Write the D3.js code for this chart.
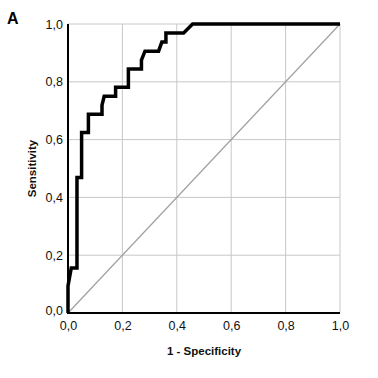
<!DOCTYPE html>
<html><head><meta charset="utf-8">
<script src="https://cdn.jsdelivr.net/npm/d3@7"></script>
<style>html,body{margin:0;padding:0;background:#fff;}</style>
</head><body>
<svg id="chart" width="378" height="378"></svg>
<script>
const panelLabel = "A";
const xTitle = "1 - Specificity";
const yTitle = "Sensitivity";
const tickValues = [0, 0.2, 0.4, 0.6, 0.8, 1.0];
const tickLabels = ["0,0", "0,2", "0,4", "0,6", "0,8", "1,0"];
// ROC curve points (1 - specificity, sensitivity)
const fpr = [0, 0, 0.012, 0.033, 0.033, 0.05, 0.05, 0.075, 0.075, 0.125, 0.125, 0.133, 0.175, 0.175, 0.222, 0.222, 0.27, 0.27, 0.283, 0.333, 0.345, 0.36, 0.36, 0.425, 0.458, 1.0];
const tpr = [0, 0.094, 0.156, 0.156, 0.469, 0.469, 0.625, 0.625, 0.6875, 0.6875, 0.719, 0.75, 0.75, 0.781, 0.781, 0.844, 0.844, 0.875, 0.906, 0.906, 0.9375, 0.9375, 0.969, 0.969, 1.0, 1.0];
const refLine = [[0, 0], [1, 1]];

const svg = d3.select("#chart");
const font = "'Liberation Sans', Arial, sans-serif";
const x = d3.scaleLinear().domain([0, 1]).range([68, 340]);
const y = d3.scaleLinear().domain([0, 1]).range([313, 24]);

// gridlines
svg.append("g").selectAll("line.v").data(tickValues.slice(1)).join("line")
  .attr("x1", d => x(d)).attr("x2", d => x(d)).attr("y1", y(0)).attr("y2", y(1))
  .attr("stroke", "#c8c8c8").attr("stroke-width", 1);
svg.append("g").selectAll("line.h").data(tickValues.slice(1)).join("line")
  .attr("y1", d => y(d)).attr("y2", d => y(d)).attr("x1", x(0)).attr("x2", x(1))
  .attr("stroke", "#c8c8c8").attr("stroke-width", 1);

// reference diagonal
svg.append("path").datum(refLine)
  .attr("d", d3.line().x(d => x(d[0])).y(d => y(d[1])))
  .attr("fill", "none").attr("stroke", "#a0a0a0").attr("stroke-width", 1.2);

// axes
const xAxis = d3.axisBottom(x).tickValues(tickValues).tickFormat((d, i) => tickLabels[i]).tickSize(0).tickPadding(8);
const yAxis = d3.axisLeft(y).tickValues(tickValues).tickFormat((d, i) => tickLabels[i]).tickSize(0).tickPadding(5);
const gx = svg.append("g").attr("transform", `translate(0,${y(0)})`).call(xAxis);
const gy = svg.append("g").attr("transform", `translate(${x(0)},0)`).call(yAxis);
[gx, gy].forEach(g => {
  g.select(".domain").attr("stroke", "#000").attr("stroke-width", 2);
  g.selectAll("text").attr("font-family", font).attr("font-size", 12.5).attr("fill", "#111");
});
gx.select(".domain").attr("d", `M${x(0)-1},0H${x(1)}`);
gy.select(".domain").attr("d", `M0,${y(0)+1}V${y(1)}`);
gy.selectAll(".tick").filter(d => d === 0).select("text").attr("dy", "0.1em");

// ROC curve
const pts = fpr.map((f, i) => [f, tpr[i]]);
svg.append("path").datum(pts)
  .attr("d", d3.line().x(d => x(d[0])).y(d => y(d[1])))
  .attr("fill", "none").attr("stroke", "#000").attr("stroke-width", 3.5)
  .attr("stroke-linejoin", "miter");

// titles
svg.append("text").attr("x", (x(0) + x(1)) / 2).attr("y", 355)
  .attr("text-anchor", "middle").attr("font-family", font).attr("font-weight", "bold")
  .attr("font-size", 11.5).attr("fill", "#111").text(xTitle);
svg.append("text").attr("transform", `translate(36,${(y(0) + y(1)) / 2}) rotate(-90)`)
  .attr("text-anchor", "middle").attr("font-family", font).attr("font-weight", "bold")
  .attr("font-size", 11.5).attr("fill", "#111").text(yTitle);
svg.append("text").attr("x", 7).attr("y", 24)
  .attr("font-family", font).attr("font-weight", "bold")
  .attr("font-size", 16).attr("fill", "#000").text(panelLabel);
</script>
</body></html>
